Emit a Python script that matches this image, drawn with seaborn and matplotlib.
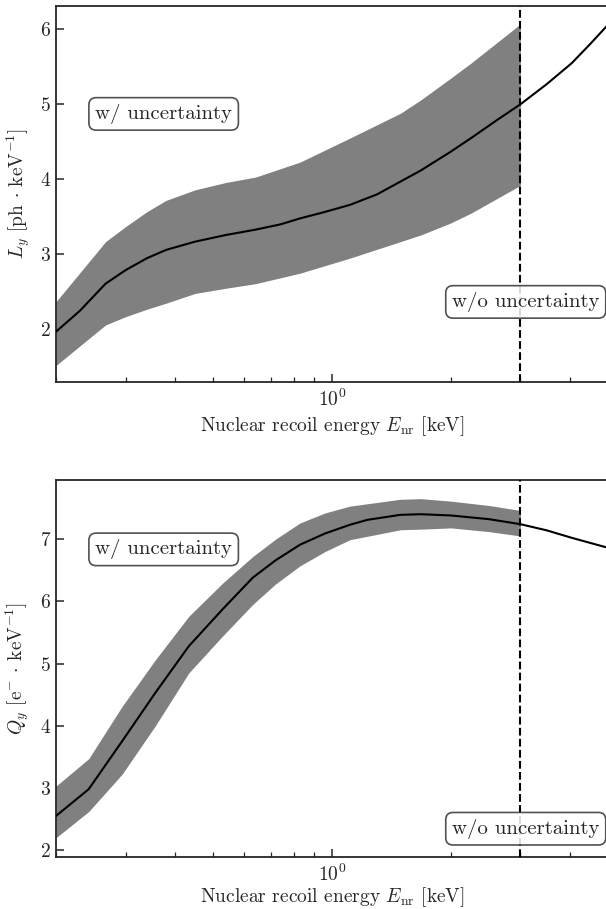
import matplotlib
matplotlib.use("Agg")
import matplotlib.pyplot as plt
import matplotlib.ticker as mticker
import seaborn as sns
import numpy as np

# ---- data ----
E_top_line = [0.2, 0.23, 0.267, 0.3, 0.34, 0.38, 0.45, 0.54, 0.64, 0.74, 0.83, 0.95, 1.11,
              1.3, 1.49, 1.68, 2.0, 2.25, 2.6, 3.0, 3.5, 4.05, 4.5, 5.0]
Ly = [1.97, 2.25, 2.61, 2.79, 2.95, 3.06, 3.17, 3.26, 3.33, 3.40, 3.48, 3.56, 3.66,
      3.80, 3.97, 4.12, 4.37, 4.55, 4.78, 5.00, 5.27, 5.55, 5.80, 6.06]

E_top_band = [0.2, 0.267, 0.3, 0.34, 0.38, 0.45, 0.54, 0.64, 0.83, 1.11, 1.49, 1.68, 2.0, 2.25, 3.0]
Ly_upper = [2.37, 3.17, 3.37, 3.57, 3.72, 3.86, 3.96, 4.03, 4.23, 4.55, 4.88, 5.06, 5.35, 5.55, 6.07]
Ly_lower = [1.52, 2.06, 2.17, 2.27, 2.35, 2.48, 2.55, 2.61, 2.75, 2.95, 3.17, 3.26, 3.42, 3.55, 3.92]

E_bot_line = [0.2, 0.242, 0.294, 0.357, 0.434, 0.528, 0.63, 0.72, 0.83, 0.96, 1.11, 1.23,
              1.49, 1.68, 2.0, 2.5, 3.0, 3.5, 4.05, 5.0]
Qy = [2.55, 2.98, 3.75, 4.53, 5.28, 5.87, 6.38, 6.66, 6.91, 7.09, 7.23, 7.31,
      7.39, 7.40, 7.38, 7.32, 7.24, 7.14, 7.02, 6.86]

E_bot_band = [0.2, 0.242, 0.294, 0.357, 0.434, 0.528, 0.63, 0.72, 0.83, 0.96, 1.11, 1.49,
              1.68, 2.0, 2.5, 3.0]
Qy_upper = [3.03, 3.47, 4.31, 5.06, 5.76, 6.29, 6.72, 7.00, 7.26, 7.42, 7.53, 7.64,
            7.65, 7.61, 7.54, 7.46]
Qy_lower = [2.20, 2.62, 3.22, 4.00, 4.85, 5.44, 5.95, 6.28, 6.57, 6.80, 6.99, 7.15,
            7.16, 7.18, 7.12, 7.05]

E_cut = 3.0
xlim = (0.2, 5.0)
ylim_top = (1.30, 6.31)
ylim_bot = (1.89, 7.95)

xlabel = r"Nuclear recoil energy $E_\mathrm{nr}$ [keV]"
ylabel_top = r"$L_y$ [ph $\cdot$ keV$^{-1}$]"
ylabel_bot = r"$Q_y$ [e$^{-}$ $\cdot$ keV$^{-1}$]"
txt_with = "w/ uncertainty"
txt_without = "w/o uncertainty"

# ---- style ----
sns.set_style("ticks")
plt.rcParams["font.family"] = ["cmr10", "DejaVu Serif"]
plt.rcParams["mathtext.fontset"] = "cm"
plt.rcParams["axes.formatter.use_mathtext"] = True
plt.rcParams["axes.unicode_minus"] = False
plt.rcParams["font.size"] = 14

W, H = 606, 909
fig = plt.figure(figsize=(W / 100, H / 100), dpi=100)

def axrect(left, top, right, bottom):
    return [left / W, 1 - bottom / H, (right - left) / W, (bottom - top) / H]

ax1 = fig.add_axes(axrect(56, 6, 608, 382))
ax2 = fig.add_axes(axrect(56, 480, 608, 857))

panels = [
    (ax1, E_top_line, Ly, E_top_band, Ly_upper, Ly_lower, ylim_top, ylabel_top,
     (0.195, 0.713), (0.851, 0.213), 3),
    (ax2, E_bot_line, Qy, E_bot_band, Qy_upper, Qy_lower, ylim_bot, ylabel_bot,
     (0.195, 0.816), (0.851, 0.075), 0),
]

bbox = dict(boxstyle="round,pad=0.3,rounding_size=0.35", facecolor="white",
            edgecolor="#333333", linewidth=1.2, alpha=0.85)

for ax, ex, ey, eb, up, lo, yl, ylab, pos_w, pos_wo, lp in panels:
    ax.fill_between(eb, lo, up, color="gray", linewidth=0, zorder=1)
    sns.lineplot(x=ex, y=ey, ax=ax, color="black", linewidth=1.5, zorder=3)
    ax.axvline(E_cut, color="black", linestyle="--", linewidth=1.5, zorder=4)
    ax.set_xscale("log")
    ax.set_xlim(*xlim)
    ax.set_ylim(*yl)
    ax.set_xlabel(xlabel, fontsize=14, labelpad=lp)
    ax.set_ylabel(ylab, fontsize=14, labelpad=6)
    ax.xaxis.set_minor_formatter(mticker.NullFormatter())
    ax.tick_params(which="both", direction="in", top=False, right=False,
                   labelsize=14)
    ax.tick_params(axis="x", which="major", pad=5)
    ax.tick_params(which="major", length=6, width=1.1)
    ax.tick_params(which="minor", length=3.5, width=0.9)
    for s in ax.spines.values():
        s.set_linewidth(1.3)
        s.set_visible(True)
    ax.text(pos_w[0], pos_w[1], txt_with, transform=ax.transAxes, ha="center",
            va="center", fontsize=15, bbox=bbox, zorder=6)
    ax.text(pos_wo[0], pos_wo[1], txt_without, transform=ax.transAxes, ha="center",
            va="center", fontsize=15, bbox=bbox, zorder=6)

fig.savefig("out.png", dpi=100)
